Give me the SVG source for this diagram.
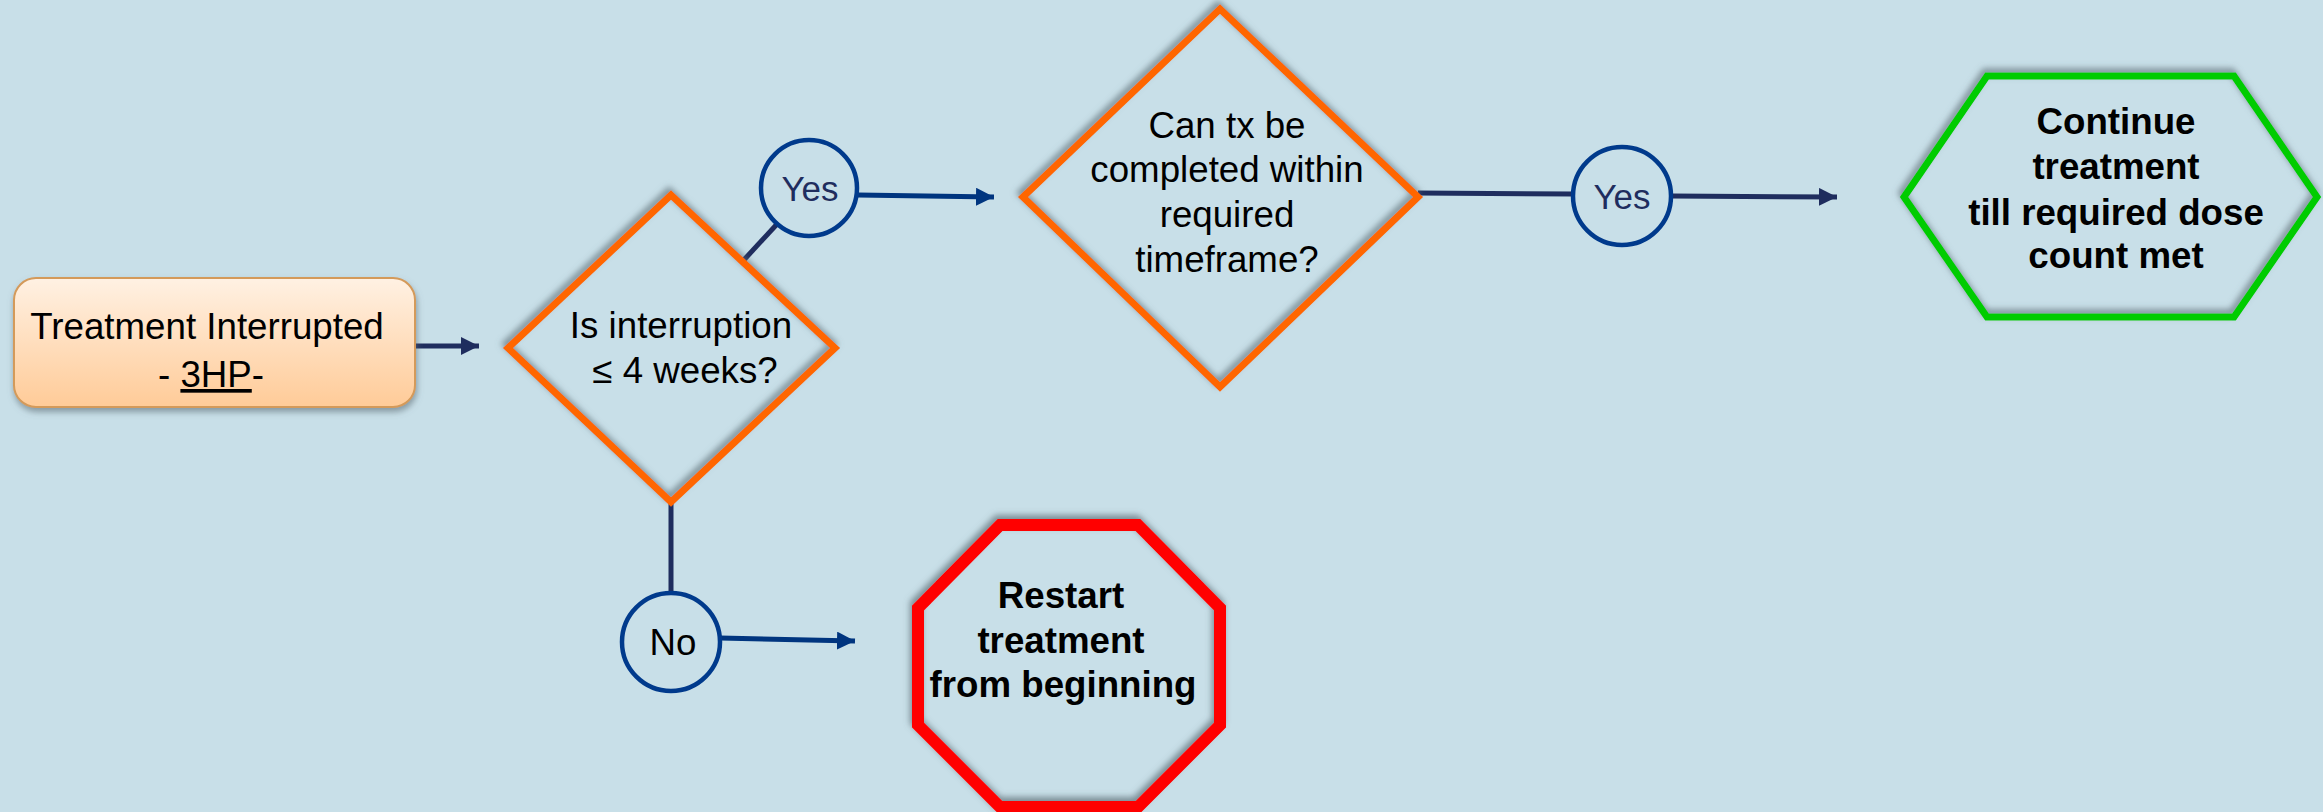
<svg xmlns="http://www.w3.org/2000/svg" width="2323" height="812" viewBox="0 0 2323 812">
<defs>
<style>
.t{font-family:"Liberation Sans",Arial,sans-serif;font-size:36.7px;fill:#000;text-anchor:middle}
.b{font-weight:bold}
.lbl{font-family:"Liberation Sans",Arial,sans-serif;font-size:35px;fill:#1F2D5E;text-anchor:middle}
.circ{fill:#C8DFE8;stroke:#003A8C;stroke-width:4.5}
.navy{fill:none;stroke:#1F2D5E;stroke-width:5}
.blue{fill:none;stroke:#00357F;stroke-width:5}
.dia{fill:none;stroke:#FF6600;stroke-width:7;stroke-linejoin:miter}
</style>
<linearGradient id="g1" x1="0" y1="0" x2="0" y2="1">
<stop offset="0" stop-color="#FFF1E3"/>
<stop offset="1" stop-color="#FFCB98"/>
</linearGradient>
<filter id="sh" x="-20%" y="-20%" width="140%" height="140%">
<feDropShadow dx="-2" dy="-4" stdDeviation="3" flood-color="#5A6A72" flood-opacity="0.7"/>
</filter>
<filter id="sh2" x="-20%" y="-20%" width="140%" height="140%">
<feDropShadow dx="1" dy="4" stdDeviation="3" flood-color="#5A6A72" flood-opacity="0.6"/>
</filter>
<marker id="an" markerUnits="userSpaceOnUse" markerWidth="20" markerHeight="20" refX="18" refY="9" orient="auto">
<path d="M0,0 L18,9 L0,18 z" fill="#1F2D5E"/>
</marker>
<marker id="ab" markerUnits="userSpaceOnUse" markerWidth="20" markerHeight="20" refX="18" refY="9" orient="auto">
<path d="M0,0 L18,9 L0,18 z" fill="#00357F"/>
</marker>
</defs>
<rect x="0" y="0" width="2323" height="812" fill="#C8DFE8"/>

<g id="connectors">
<line class="navy" x1="415" y1="346" x2="479" y2="346" marker-end="url(#an)"/>
<line class="navy" x1="742" y1="262" x2="778" y2="223"/>
<line class="blue" x1="858" y1="195" x2="994" y2="197" marker-end="url(#ab)"/>
<line class="navy" x1="1418" y1="193" x2="1573" y2="194"/>
<line class="navy" x1="1672" y1="196" x2="1837" y2="197" marker-end="url(#an)"/>
<line class="navy" x1="671" y1="502" x2="671" y2="593"/>
<line class="blue" x1="720" y1="638" x2="855" y2="641" marker-end="url(#ab)"/>
</g>

<g id="start">
<rect x="14" y="278" width="401" height="129" rx="22" fill="url(#g1)" stroke="#D49A5A" stroke-width="2" filter="url(#sh2)"/>
<text class="t" x="207" y="339">Treatment Interrupted</text>
<text class="t" x="211" y="387">- <tspan text-decoration="underline">3HP</tspan>-</text>
</g>

<g id="decision1">
<polygon class="dia" points="671,195 835,348 671,502 508,348" filter="url(#sh)"/>
<text class="t" x="681" y="338">Is interruption</text>
<text class="t" x="685" y="383">≤ 4 weeks?</text>
</g>

<g id="yes1">
<circle class="circ" cx="809" cy="188" r="48"/>
<text class="lbl" x="810" y="201">Yes</text>
</g>

<g id="decision2">
<polygon class="dia" points="1220,9 1418,197 1220,387 1023,197" filter="url(#sh)"/>
<text class="t" x="1227" y="138">Can tx be</text>
<text class="t" x="1227" y="182">completed within</text>
<text class="t" x="1227" y="227">required</text>
<text class="t" x="1227" y="272">timeframe?</text>
</g>

<g id="yes2">
<circle class="circ" cx="1622" cy="196" r="49"/>
<text class="lbl" x="1622" y="209">Yes</text>
</g>

<g id="continue">
<polygon points="1987,76 2234,76 2317,197 2234,317 1987,317 1904,197" fill="none" stroke="#00CC00" stroke-width="7" filter="url(#sh)"/>
<text class="t b" x="2116" y="134">Continue</text>
<text class="t b" x="2116" y="179">treatment</text>
<text class="t b" x="2116" y="225">till required dose</text>
<text class="t b" x="2116" y="268">count met</text>
</g>

<g id="no">
<circle class="circ" cx="671" cy="642" r="49"/>
<text x="673" y="655" style="font-family:'Liberation Sans',Arial,sans-serif;font-size:36.7px;fill:#000;text-anchor:middle">No</text>
</g>

<g id="restart">
<polygon points="1000,525 1138,525 1220,608 1220,725 1138,807 1000,807 918,725 918,608" fill="none" stroke="#FF0000" stroke-width="12" filter="url(#sh)"/>
<text class="t b" x="1061" y="608">Restart</text>
<text class="t b" x="1061" y="653">treatment</text>
<text class="t b" x="1063" y="697">from beginning</text>
</g>
</svg>
